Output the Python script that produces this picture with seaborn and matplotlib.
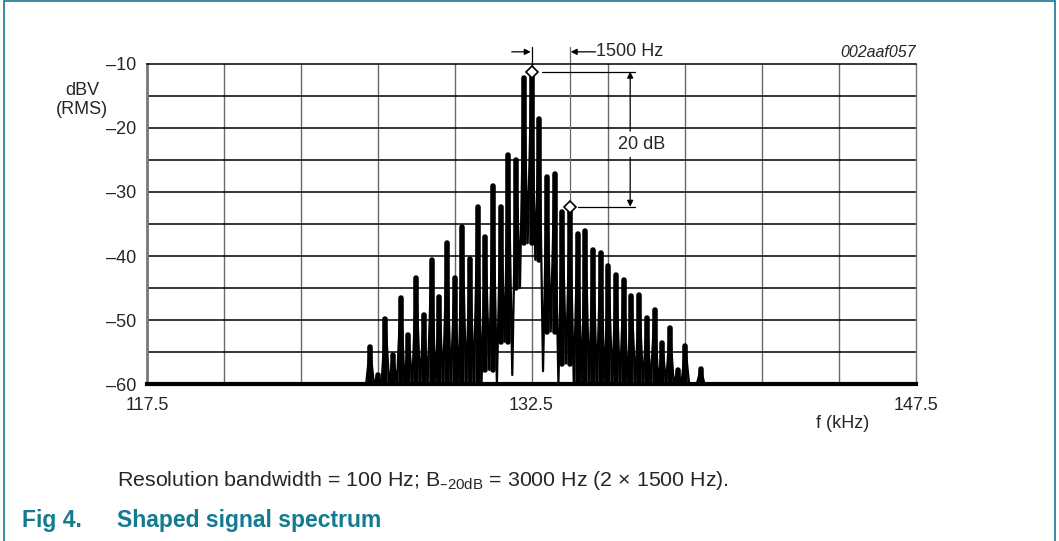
import matplotlib
matplotlib.use("Agg")
import matplotlib.pyplot as plt
import seaborn as sns
import pandas as pd

# === data ===
# spectral lines (kHz), one every 300 Hz
freqs = [126.2, 126.5, 126.8, 127.1, 127.4, 127.7, 128.0, 128.3, 128.6, 128.9, 129.2,
         129.5, 129.8, 130.1, 130.4, 130.7, 131.0, 131.3, 131.6, 131.9, 132.2, 132.5,
         132.8, 133.1, 133.4, 133.7, 134.0, 134.3, 134.6, 134.9, 135.2, 135.5, 135.8,
         136.1, 136.4, 136.7, 137.0, 137.3, 137.6, 137.9, 138.2, 138.5, 138.8, 139.1]
# peak level of each line (dBV RMS)
peaks = [-54.2, -58.6, -49.9, -55.5, -46.5, -52.3, -43.4, -49.2, -40.6, -46.4, -38.0,
         -43.5, -35.4, -40.4, -32.4, -37.0, -29.1, -32.4, -24.2, -25.0, -12.2, -11.2,
         -18.6, -27.6, -27.2, -33.1, -32.3, -36.5, -36.1, -39.1, -39.5, -41.6, -42.9,
         -43.8, -46.2, -46.1, -49.7, -48.5, -53.6, -51.2, -57.8, -54.1, -60.0, -57.7]
# minimum of the trace between two neighbouring lines
troughs = [-60, -60, -60, -60, -60, -60, -60, -60, -60, -60, -60,
           -60, -60, -60, -60, -57.8, -60, -53.4, -58.6, -45.0, -38.0, -40.6,
           -58.0, -51.8, -60, -56.8, -60, -60, -60, -60, -60, -60, -60,
           -60, -60, -60, -60, -60, -60, -60, -60, -60, -60]

x_grid = [117.5, 120.5, 123.5, 126.5, 129.5, 132.5, 135.5, 138.5, 141.5, 144.5, 147.5]
x_labels = ["117.5", "", "", "", "", "132.5", "", "", "", "", "147.5"]
y_grid = [-60, -55, -50, -45, -40, -35, -30, -25, -20, -15, -10]
y_labels = ["\u201360", "", "\u201350", "", "\u201340", "", "\u201330", "", "\u201320", "", "\u201310"]

# markers: main line and the line 1500 Hz away
marker_f = [132.5, 134.0]
marker_db = [-11.2, -32.3]

teal = "#137b8f"
W, H = 1059, 541
fs = 13

sns.set_style("white")
plt.rcParams["font.family"] = ["Liberation Sans", "DejaVu Sans"]


def fpos(x, y):
    return x / W, 1 - y / H


# build the trace: line peak -> trough -> next line peak
tx, ty = [freqs[0] - 8.7, freqs[0] - 0.15], [-60, -60]
for i, f in enumerate(freqs):
    tx.append(f)
    ty.append(peaks[i])
    if i < len(troughs):
        tx.append((f + freqs[i + 1]) / 2)
        ty.append(troughs[i])
tx += [freqs[-1] + 0.15, 147.5]
ty += [-60, -60]
trace = pd.DataFrame({"f": tx, "dbv": ty})

lower = [-60] + troughs + [-60]
bar_bottom = [max(lower[i], lower[i + 1]) for i in range(len(freqs))]

fig = plt.figure(figsize=(W / 100, H / 100), dpi=100)
ax = fig.add_axes([147 / W, 1 - 384 / H, (916 - 147) / W, (384 - 64) / H])

sns.lineplot(data=trace, x="f", y="dbv", sort=False, estimator=None,
             color="black", lw=1.6, ax=ax, zorder=3)
ax.vlines(freqs, bar_bottom, peaks, color="black", lw=4, zorder=3, capstyle="round")

ax.set_xlim(117.5, 147.5)
ax.set_ylim(-60, -10)
ax.set_xticks(x_grid)
ax.set_xticklabels(x_labels)
ax.set_yticks(y_grid)
ax.set_yticklabels(y_labels)
ax.tick_params(length=0, labelsize=fs)
ax.tick_params(axis="x", pad=9.5)
ax.tick_params(axis="y", pad=8)
ax.set_xlabel("")
ax.set_ylabel("")
for x in x_grid[1:-1]:
    ax.axvline(x, color="#6a6a6a", lw=1, zorder=1)
for y in y_grid[1:-1]:
    ax.axhline(y, color="black", lw=1.1, zorder=1)
ax.spines["left"].set_color("#777777")
ax.spines["left"].set_linewidth(2)
ax.spines["right"].set_color("#777777")
ax.spines["right"].set_linewidth(1)
ax.spines["top"].set_color("black")
ax.spines["top"].set_linewidth(1.1)
ax.spines["bottom"].set_color("black")
ax.spines["bottom"].set_linewidth(3)

# markers and their guide lines
ax.plot(marker_f, marker_db, ls="none", marker="D", ms=6, mfc="white", mec="black",
        mew=1.2, zorder=6, clip_on=False)
ax.plot([marker_f[0], marker_f[0]], [marker_db[0], -7.4], color="black", lw=0.9, clip_on=False)
ax.plot([marker_f[1], marker_f[1]], [marker_db[1], -7.4], color="#666666", lw=0.9, clip_on=False)
ax.plot([132.9, 136.55], [marker_db[0], marker_db[0]], color="black", lw=0.9)
ax.plot([134.3, 136.55], [marker_db[1], marker_db[1]], color="black", lw=0.9)

# 1500 Hz arrows above the plot
arrow = dict(arrowstyle="-|>", color="black", lw=0.9, mutation_scale=9, shrinkA=0, shrinkB=0)
ax.annotate("", xy=(marker_f[0] - 0.03, -8.1), xytext=(131.73, -8.1), arrowprops=arrow,
            annotation_clip=False)
ax.annotate("", xy=(marker_f[1] + 0.03, -8.1), xytext=(135.0, -8.1), arrowprops=arrow,
            annotation_clip=False)
ax.text(135.02, -8.1, "1500 Hz", ha="left", va="center", fontsize=fs)

# 20 dB arrows
ax.annotate("", xy=(136.35, marker_db[0]), xytext=(136.35, -20.5), arrowprops=arrow)
ax.annotate("", xy=(136.35, marker_db[1]), xytext=(136.35, -24.6), arrowprops=arrow)
ax.text(136.8, -22.6, "20 dB", ha="center", va="center", fontsize=fs,
        bbox=dict(fc="white", ec="none", pad=0.5))

ax.text(1.0, 1.037, "002aaf057", transform=ax.transAxes, ha="right", va="center",
        fontsize=11.5, style="italic")

fig.text(*fpos(82, 100), "dBV\n(RMS)", ha="center", va="center", fontsize=fs,
         linespacing=1.1)
fig.text(*fpos(843, 424), "f (kHz)", ha="center", va="center", fontsize=fs)
fig.text(*fpos(117, 481),
         "Resolution bandwidth = 100 Hz; B$_{\\mathregular{\u201320dB}}$ = 3000 Hz (2 \u00d7 1500 Hz).",
         ha="left", va="center", fontsize=15.4)
fig.text(*fpos(22, 520), "Fig 4.", ha="left", va="center", fontsize=16.5,
         fontweight="bold", color=teal)
fig.text(*fpos(117, 520), "Shaped signal spectrum", ha="left", va="center", fontsize=16.5,
         fontweight="bold", color=teal)

# teal frame (left, top, right)
fig.add_artist(plt.Line2D([4 / W, 4 / W], [0, 1 - 1 / H], color=teal, lw=1.2))
fig.add_artist(plt.Line2D([4 / W, 1055 / W], [1 - 1 / H, 1 - 1 / H], color=teal, lw=1.2))
fig.add_artist(plt.Line2D([1055 / W, 1055 / W], [0, 1 - 1 / H], color=teal, lw=1.2))

fig.savefig("out.png", dpi=100)
